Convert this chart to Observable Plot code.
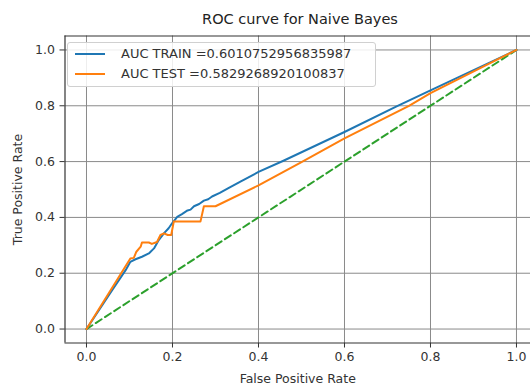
<!DOCTYPE html>
<html>
<head>
<meta charset="utf-8">
<script src="https://cdn.jsdelivr.net/npm/d3@7"></script>
<script src="https://cdn.jsdelivr.net/npm/@observablehq/plot@0.6"></script>
<style>
  html, body { margin: 0; padding: 0; background: #fff; }
  #wrap { position: relative; width: 530px; height: 387px; overflow: hidden; font-family: "DejaVu Sans", sans-serif; color: #333; }
  #title { position: absolute; top: 11px; left: 300px; transform: translateX(-50%); font-size: 14.5px; white-space: nowrap; color: #222; }
  #chart { position: absolute; top: 30px; left: 0; }
  #legend { position: absolute; left: 67px; top: 42px; width: 309px; height: 45px; background: rgba(255,255,255,0.85); border: 1px solid #d0d0d0; border-radius: 3px; box-sizing: border-box; font-size: 13px; color: #333; }
  .item { position: absolute; left: 0; display: flex; align-items: center; white-space: nowrap; }
  .swatch { display: inline-block; width: 30px; height: 2px; margin-left: 7px; margin-right: 16px; }
</style>
</head>
<body>
<div id="wrap">
  <div id="title">ROC curve for Naive Bayes</div>
  <div id="chart"></div>
  <div id="legend"></div>
</div>
<script>
const titleText = "ROC curve for Naive Bayes";
const xLabel = "False Positive Rate";
const yLabel = "True Positive Rate";
const xTicks = [0, 0.2, 0.4, 0.6, 0.8, 1.0];
const yTicks = [0, 0.2, 0.4, 0.6, 0.8, 1.0];
const seriesNames = ["AUC TRAIN =0.6010752956835987", "AUC TEST =0.5829268920100837"];
const seriesColors = ["#1f77b4", "#ff7f0e"];

const fprTrain = [0, 0.03, 0.06, 0.091, 0.102, 0.114, 0.129, 0.145, 0.157, 0.168, 0.18, 0.191, 0.199, 0.211, 0.222, 0.235, 0.242, 0.25, 0.262, 0.273, 0.283, 0.292, 0.31, 0.33, 0.358, 0.4, 0.458, 0.6, 0.72, 0.8, 1.0];
const tprTrain = [0, 0.07, 0.14, 0.211, 0.241, 0.25, 0.259, 0.271, 0.289, 0.319, 0.343, 0.361, 0.379, 0.402, 0.412, 0.425, 0.428, 0.44, 0.448, 0.46, 0.465, 0.475, 0.488, 0.505, 0.528, 0.563, 0.603, 0.706, 0.797, 0.855, 1.0];

const fprTest = [0, 0.102, 0.11, 0.116, 0.126, 0.129, 0.145, 0.152, 0.164, 0.172, 0.18, 0.189, 0.197, 0.203, 0.265, 0.273, 0.3, 0.4, 0.5, 0.6, 0.75, 0.8, 1.0];
const tprTest = [0, 0.253, 0.255, 0.277, 0.295, 0.31, 0.31, 0.305, 0.312, 0.337, 0.343, 0.337, 0.337, 0.385, 0.385, 0.44, 0.44, 0.515, 0.598, 0.683, 0.8, 0.845, 1.0];

const chanceX = [0, 1];
const chanceY = [0, 1];

const train = fprTrain.map((x, i) => ({x, y: tprTrain[i]}));
const test = fprTest.map((x, i) => ({x, y: tprTest[i]}));
const chance = chanceX.map((x, i) => ({x, y: chanceY[i]}));

const plot = Plot.plot({
  width: 530,
  height: 357,
  marginLeft: 64.5,
  marginRight: 0,
  marginTop: 5.5,
  marginBottom: 44.5,
  style: {fontFamily: "DejaVu Sans, sans-serif", fontSize: "12.5px", color: "#333", background: "transparent"},
  x: {domain: [-0.05, 1.0326]},
  y: {domain: [-0.05, 1.05]},
  marks: [
    Plot.gridX(xTicks, {stroke: "#8a8a8a", strokeOpacity: 1, strokeWidth: 1}),
    Plot.gridY(yTicks, {stroke: "#8a8a8a", strokeOpacity: 1, strokeWidth: 1}),
    Plot.ruleX([-0.05], {stroke: "#333", strokeWidth: 1.2}),
    Plot.ruleY([-0.05, 1.05], {stroke: "#333", strokeWidth: 1.2}),
    Plot.axisX(xTicks, {tickFormat: d3.format(".1f"), tickSize: 5, tickPadding: 4, label: xLabel, labelAnchor: "center", labelArrow: "none", labelOffset: 40, stroke: "#333", fill: "#333", fontSize: 12.5}),
    Plot.axisY(yTicks, {tickFormat: d3.format(".1f"), tickSize: 5, tickPadding: 5, label: yLabel, labelAnchor: "center", labelArrow: "none", labelOffset: 52, stroke: "#333", fill: "#333", fontSize: 12.5}),
    Plot.line(chance, {x: "x", y: "y", stroke: "#2ca02c", strokeWidth: 2, strokeDasharray: "7,4"}),
    Plot.line(train, {x: "x", y: "y", stroke: seriesColors[0], strokeWidth: 2}),
    Plot.line(test, {x: "x", y: "y", stroke: seriesColors[1], strokeWidth: 2})
  ]
});
document.getElementById("chart").appendChild(plot);
document.getElementById("title").textContent = titleText;

const legend = document.getElementById("legend");
seriesNames.forEach((name, i) => {
  const item = document.createElement("div");
  item.className = "item";
  item.style.top = (i === 0 ? 3 : 23) + "px";
  const sw = document.createElement("span");
  sw.className = "swatch";
  sw.style.background = seriesColors[i];
  const tx = document.createElement("span");
  tx.textContent = name;
  item.appendChild(sw);
  item.appendChild(tx);
  legend.appendChild(item);
});
</script>
</body>
</html>
